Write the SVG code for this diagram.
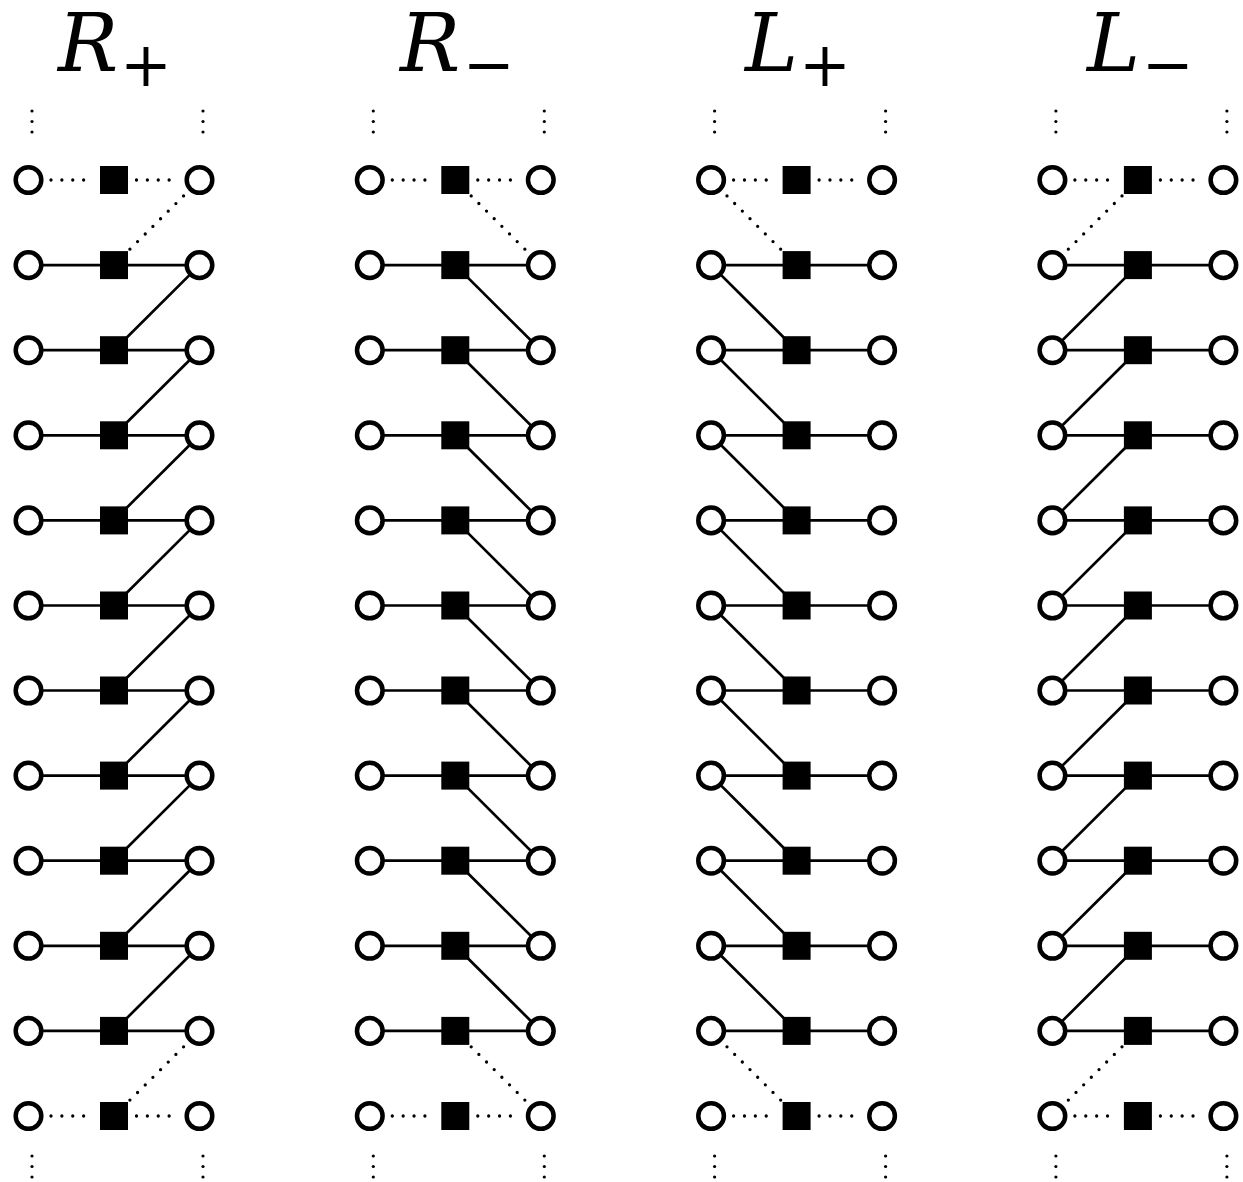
<svg xmlns="http://www.w3.org/2000/svg" width="1243" height="1182" viewBox="0 0 1243 1182">
<style>
.c{fill:#fff;stroke:#000;stroke-width:4.5}
.s{fill:#000}
.l{stroke:#000;stroke-width:2.7;fill:none}
.dh{stroke:#000;stroke-width:3.3;stroke-linecap:round;stroke-dasharray:0 10.875;fill:none}
.dd{stroke:#000;stroke-width:3.3;stroke-linecap:round;stroke-dasharray:0 10.8;fill:none}
.v{fill:#000}
.t{font-family:"DejaVu Serif",serif;font-style:italic;font-size:80px;fill:#000}
.sb{font-style:normal;font-size:62px}
</style>
<defs>
<g id="hz">
<line class="dh" x1="22.5" y1="180" x2="66" y2="180"/><line class="dh" x1="108" y1="180" x2="151.5" y2="180"/>
<line class="l" x1="0" y1="265.1" x2="171" y2="265.1"/>
<line class="l" x1="0" y1="350.2" x2="171" y2="350.2"/>
<line class="l" x1="0" y1="435.3" x2="171" y2="435.3"/>
<line class="l" x1="0" y1="520.4" x2="171" y2="520.4"/>
<line class="l" x1="0" y1="605.5" x2="171" y2="605.5"/>
<line class="l" x1="0" y1="690.5" x2="171" y2="690.5"/>
<line class="l" x1="0" y1="775.6" x2="171" y2="775.6"/>
<line class="l" x1="0" y1="860.7" x2="171" y2="860.7"/>
<line class="l" x1="0" y1="945.8" x2="171" y2="945.8"/>
<line class="l" x1="0" y1="1030.9" x2="171" y2="1030.9"/>
<line class="dh" x1="22.5" y1="1116" x2="66" y2="1116"/><line class="dh" x1="108" y1="1116" x2="151.5" y2="1116"/>
</g>
<g id="vd">
<circle class="v" cx="3.5" cy="111" r="1.6"/><circle class="v" cx="3.5" cy="121.5" r="1.6"/><circle class="v" cx="3.5" cy="132" r="1.6"/>
<circle class="v" cx="174.5" cy="111" r="1.6"/><circle class="v" cx="174.5" cy="121.5" r="1.6"/><circle class="v" cx="174.5" cy="132" r="1.6"/>
<circle class="v" cx="3.5" cy="1156" r="1.6"/><circle class="v" cx="3.5" cy="1166.5" r="1.6"/><circle class="v" cx="3.5" cy="1177" r="1.6"/>
<circle class="v" cx="174.5" cy="1156" r="1.6"/><circle class="v" cx="174.5" cy="1166.5" r="1.6"/><circle class="v" cx="174.5" cy="1177" r="1.6"/>
</g>
</defs>

<g id="titles">
<text class="t" x="58" y="71">R<tspan class="sb" x="120" y="86">+</tspan></text>
<text class="t" x="400" y="71">R<tspan class="sb" x="463" y="86">−</tspan></text>
<text class="t" x="745" y="71">L<tspan class="sb" x="799" y="86">+</tspan></text>
<text class="t" x="1087" y="71">L<tspan class="sb" x="1142" y="86">−</tspan></text>
</g>

<g id="vdots">
<use href="#vd" x="28.5"/><use href="#vd" x="369.8"/><use href="#vd" x="711.1"/><use href="#vd" x="1052.4"/>
</g>

<g id="connectors">
<g id="conn-rp" transform="translate(28.5,0)">
<use href="#hz"/>
<line class="dd" x1="101.4" y1="249.2" x2="155.1" y2="195.9"/>
<line class="l" x1="85.5" y1="350.2" x2="171" y2="265.1"/>
<line class="l" x1="85.5" y1="435.3" x2="171" y2="350.2"/>
<line class="l" x1="85.5" y1="520.4" x2="171" y2="435.3"/>
<line class="l" x1="85.5" y1="605.5" x2="171" y2="520.4"/>
<line class="l" x1="85.5" y1="690.5" x2="171" y2="605.5"/>
<line class="l" x1="85.5" y1="775.6" x2="171" y2="690.5"/>
<line class="l" x1="85.5" y1="860.7" x2="171" y2="775.6"/>
<line class="l" x1="85.5" y1="945.8" x2="171" y2="860.7"/>
<line class="l" x1="85.5" y1="1030.9" x2="171" y2="945.8"/>
<line class="dd" x1="101.4" y1="1100.1" x2="155.1" y2="1046.8"/>
</g>
<g id="conn-rm" transform="translate(369.8,0)">
<use href="#hz"/>
<line class="dd" x1="101.4" y1="195.9" x2="155.1" y2="249.2"/>
<line class="l" x1="85.5" y1="265.1" x2="171" y2="350.2"/>
<line class="l" x1="85.5" y1="350.2" x2="171" y2="435.3"/>
<line class="l" x1="85.5" y1="435.3" x2="171" y2="520.4"/>
<line class="l" x1="85.5" y1="520.4" x2="171" y2="605.5"/>
<line class="l" x1="85.5" y1="605.5" x2="171" y2="690.5"/>
<line class="l" x1="85.5" y1="690.5" x2="171" y2="775.6"/>
<line class="l" x1="85.5" y1="775.6" x2="171" y2="860.7"/>
<line class="l" x1="85.5" y1="860.7" x2="171" y2="945.8"/>
<line class="l" x1="85.5" y1="945.8" x2="171" y2="1030.9"/>
<line class="dd" x1="101.4" y1="1046.8" x2="155.1" y2="1100.1"/>
</g>
<g id="conn-lp" transform="translate(711.1,0)">
<use href="#hz"/>
<line class="dd" x1="15.9" y1="195.9" x2="69.6" y2="249.2"/>
<line class="l" x1="0" y1="265.1" x2="85.5" y2="350.2"/>
<line class="l" x1="0" y1="350.2" x2="85.5" y2="435.3"/>
<line class="l" x1="0" y1="435.3" x2="85.5" y2="520.4"/>
<line class="l" x1="0" y1="520.4" x2="85.5" y2="605.5"/>
<line class="l" x1="0" y1="605.5" x2="85.5" y2="690.5"/>
<line class="l" x1="0" y1="690.5" x2="85.5" y2="775.6"/>
<line class="l" x1="0" y1="775.6" x2="85.5" y2="860.7"/>
<line class="l" x1="0" y1="860.7" x2="85.5" y2="945.8"/>
<line class="l" x1="0" y1="945.8" x2="85.5" y2="1030.9"/>
<line class="dd" x1="15.9" y1="1046.8" x2="69.6" y2="1100.1"/>
</g>
<g id="conn-lm" transform="translate(1052.4,0)">
<use href="#hz"/>
<line class="dd" x1="69.6" y1="195.9" x2="15.9" y2="249.2"/>
<line class="l" x1="85.5" y1="265.1" x2="0" y2="350.2"/>
<line class="l" x1="85.5" y1="350.2" x2="0" y2="435.3"/>
<line class="l" x1="85.5" y1="435.3" x2="0" y2="520.4"/>
<line class="l" x1="85.5" y1="520.4" x2="0" y2="605.5"/>
<line class="l" x1="85.5" y1="605.5" x2="0" y2="690.5"/>
<line class="l" x1="85.5" y1="690.5" x2="0" y2="775.6"/>
<line class="l" x1="85.5" y1="775.6" x2="0" y2="860.7"/>
<line class="l" x1="85.5" y1="860.7" x2="0" y2="945.8"/>
<line class="l" x1="85.5" y1="945.8" x2="0" y2="1030.9"/>
<line class="dd" x1="69.6" y1="1046.8" x2="15.9" y2="1100.1"/>
</g>
</g>

<g id="nodes-rp" transform="translate(28.5,0)">
<g id="rp-l1"><circle class="c" cx="0" cy="180" r="12.8"/></g><g id="rp-s1"><rect class="s" x="71.5" y="166" width="28" height="28"/></g><g id="rp-r1"><circle class="c" cx="171" cy="180" r="12.8"/></g>
<g id="rp-l2"><circle class="c" cx="0" cy="265.1" r="12.8"/></g><g id="rp-s2"><rect class="s" x="71.5" y="251.1" width="28" height="28"/></g><g id="rp-r2"><circle class="c" cx="171" cy="265.1" r="12.8"/></g>
<g id="rp-l3"><circle class="c" cx="0" cy="350.2" r="12.8"/></g><g id="rp-s3"><rect class="s" x="71.5" y="336.2" width="28" height="28"/></g><g id="rp-r3"><circle class="c" cx="171" cy="350.2" r="12.8"/></g>
<g id="rp-l4"><circle class="c" cx="0" cy="435.3" r="12.8"/></g><g id="rp-s4"><rect class="s" x="71.5" y="421.3" width="28" height="28"/></g><g id="rp-r4"><circle class="c" cx="171" cy="435.3" r="12.8"/></g>
<g id="rp-l5"><circle class="c" cx="0" cy="520.4" r="12.8"/></g><g id="rp-s5"><rect class="s" x="71.5" y="506.4" width="28" height="28"/></g><g id="rp-r5"><circle class="c" cx="171" cy="520.4" r="12.8"/></g>
<g id="rp-l6"><circle class="c" cx="0" cy="605.5" r="12.8"/></g><g id="rp-s6"><rect class="s" x="71.5" y="591.5" width="28" height="28"/></g><g id="rp-r6"><circle class="c" cx="171" cy="605.5" r="12.8"/></g>
<g id="rp-l7"><circle class="c" cx="0" cy="690.5" r="12.8"/></g><g id="rp-s7"><rect class="s" x="71.5" y="676.5" width="28" height="28"/></g><g id="rp-r7"><circle class="c" cx="171" cy="690.5" r="12.8"/></g>
<g id="rp-l8"><circle class="c" cx="0" cy="775.6" r="12.8"/></g><g id="rp-s8"><rect class="s" x="71.5" y="761.6" width="28" height="28"/></g><g id="rp-r8"><circle class="c" cx="171" cy="775.6" r="12.8"/></g>
<g id="rp-l9"><circle class="c" cx="0" cy="860.7" r="12.8"/></g><g id="rp-s9"><rect class="s" x="71.5" y="846.7" width="28" height="28"/></g><g id="rp-r9"><circle class="c" cx="171" cy="860.7" r="12.8"/></g>
<g id="rp-l10"><circle class="c" cx="0" cy="945.8" r="12.8"/></g><g id="rp-s10"><rect class="s" x="71.5" y="931.8" width="28" height="28"/></g><g id="rp-r10"><circle class="c" cx="171" cy="945.8" r="12.8"/></g>
<g id="rp-l11"><circle class="c" cx="0" cy="1030.9" r="12.8"/></g><g id="rp-s11"><rect class="s" x="71.5" y="1016.9" width="28" height="28"/></g><g id="rp-r11"><circle class="c" cx="171" cy="1030.9" r="12.8"/></g>
<g id="rp-l12"><circle class="c" cx="0" cy="1116" r="12.8"/></g><g id="rp-s12"><rect class="s" x="71.5" y="1102" width="28" height="28"/></g><g id="rp-r12"><circle class="c" cx="171" cy="1116" r="12.8"/></g>
</g>

<g id="nodes-rm" transform="translate(369.8,0)">
<g id="rm-l1"><circle class="c" cx="0" cy="180" r="12.8"/></g><g id="rm-s1"><rect class="s" x="71.5" y="166" width="28" height="28"/></g><g id="rm-r1"><circle class="c" cx="171" cy="180" r="12.8"/></g>
<g id="rm-l2"><circle class="c" cx="0" cy="265.1" r="12.8"/></g><g id="rm-s2"><rect class="s" x="71.5" y="251.1" width="28" height="28"/></g><g id="rm-r2"><circle class="c" cx="171" cy="265.1" r="12.8"/></g>
<g id="rm-l3"><circle class="c" cx="0" cy="350.2" r="12.8"/></g><g id="rm-s3"><rect class="s" x="71.5" y="336.2" width="28" height="28"/></g><g id="rm-r3"><circle class="c" cx="171" cy="350.2" r="12.8"/></g>
<g id="rm-l4"><circle class="c" cx="0" cy="435.3" r="12.8"/></g><g id="rm-s4"><rect class="s" x="71.5" y="421.3" width="28" height="28"/></g><g id="rm-r4"><circle class="c" cx="171" cy="435.3" r="12.8"/></g>
<g id="rm-l5"><circle class="c" cx="0" cy="520.4" r="12.8"/></g><g id="rm-s5"><rect class="s" x="71.5" y="506.4" width="28" height="28"/></g><g id="rm-r5"><circle class="c" cx="171" cy="520.4" r="12.8"/></g>
<g id="rm-l6"><circle class="c" cx="0" cy="605.5" r="12.8"/></g><g id="rm-s6"><rect class="s" x="71.5" y="591.5" width="28" height="28"/></g><g id="rm-r6"><circle class="c" cx="171" cy="605.5" r="12.8"/></g>
<g id="rm-l7"><circle class="c" cx="0" cy="690.5" r="12.8"/></g><g id="rm-s7"><rect class="s" x="71.5" y="676.5" width="28" height="28"/></g><g id="rm-r7"><circle class="c" cx="171" cy="690.5" r="12.8"/></g>
<g id="rm-l8"><circle class="c" cx="0" cy="775.6" r="12.8"/></g><g id="rm-s8"><rect class="s" x="71.5" y="761.6" width="28" height="28"/></g><g id="rm-r8"><circle class="c" cx="171" cy="775.6" r="12.8"/></g>
<g id="rm-l9"><circle class="c" cx="0" cy="860.7" r="12.8"/></g><g id="rm-s9"><rect class="s" x="71.5" y="846.7" width="28" height="28"/></g><g id="rm-r9"><circle class="c" cx="171" cy="860.7" r="12.8"/></g>
<g id="rm-l10"><circle class="c" cx="0" cy="945.8" r="12.8"/></g><g id="rm-s10"><rect class="s" x="71.5" y="931.8" width="28" height="28"/></g><g id="rm-r10"><circle class="c" cx="171" cy="945.8" r="12.8"/></g>
<g id="rm-l11"><circle class="c" cx="0" cy="1030.9" r="12.8"/></g><g id="rm-s11"><rect class="s" x="71.5" y="1016.9" width="28" height="28"/></g><g id="rm-r11"><circle class="c" cx="171" cy="1030.9" r="12.8"/></g>
<g id="rm-l12"><circle class="c" cx="0" cy="1116" r="12.8"/></g><g id="rm-s12"><rect class="s" x="71.5" y="1102" width="28" height="28"/></g><g id="rm-r12"><circle class="c" cx="171" cy="1116" r="12.8"/></g>
</g>

<g id="nodes-lp" transform="translate(711.1,0)">
<g id="lp-l1"><circle class="c" cx="0" cy="180" r="12.8"/></g><g id="lp-s1"><rect class="s" x="71.5" y="166" width="28" height="28"/></g><g id="lp-r1"><circle class="c" cx="171" cy="180" r="12.8"/></g>
<g id="lp-l2"><circle class="c" cx="0" cy="265.1" r="12.8"/></g><g id="lp-s2"><rect class="s" x="71.5" y="251.1" width="28" height="28"/></g><g id="lp-r2"><circle class="c" cx="171" cy="265.1" r="12.8"/></g>
<g id="lp-l3"><circle class="c" cx="0" cy="350.2" r="12.8"/></g><g id="lp-s3"><rect class="s" x="71.5" y="336.2" width="28" height="28"/></g><g id="lp-r3"><circle class="c" cx="171" cy="350.2" r="12.8"/></g>
<g id="lp-l4"><circle class="c" cx="0" cy="435.3" r="12.8"/></g><g id="lp-s4"><rect class="s" x="71.5" y="421.3" width="28" height="28"/></g><g id="lp-r4"><circle class="c" cx="171" cy="435.3" r="12.8"/></g>
<g id="lp-l5"><circle class="c" cx="0" cy="520.4" r="12.8"/></g><g id="lp-s5"><rect class="s" x="71.5" y="506.4" width="28" height="28"/></g><g id="lp-r5"><circle class="c" cx="171" cy="520.4" r="12.8"/></g>
<g id="lp-l6"><circle class="c" cx="0" cy="605.5" r="12.8"/></g><g id="lp-s6"><rect class="s" x="71.5" y="591.5" width="28" height="28"/></g><g id="lp-r6"><circle class="c" cx="171" cy="605.5" r="12.8"/></g>
<g id="lp-l7"><circle class="c" cx="0" cy="690.5" r="12.8"/></g><g id="lp-s7"><rect class="s" x="71.5" y="676.5" width="28" height="28"/></g><g id="lp-r7"><circle class="c" cx="171" cy="690.5" r="12.8"/></g>
<g id="lp-l8"><circle class="c" cx="0" cy="775.6" r="12.8"/></g><g id="lp-s8"><rect class="s" x="71.5" y="761.6" width="28" height="28"/></g><g id="lp-r8"><circle class="c" cx="171" cy="775.6" r="12.8"/></g>
<g id="lp-l9"><circle class="c" cx="0" cy="860.7" r="12.8"/></g><g id="lp-s9"><rect class="s" x="71.5" y="846.7" width="28" height="28"/></g><g id="lp-r9"><circle class="c" cx="171" cy="860.7" r="12.8"/></g>
<g id="lp-l10"><circle class="c" cx="0" cy="945.8" r="12.8"/></g><g id="lp-s10"><rect class="s" x="71.5" y="931.8" width="28" height="28"/></g><g id="lp-r10"><circle class="c" cx="171" cy="945.8" r="12.8"/></g>
<g id="lp-l11"><circle class="c" cx="0" cy="1030.9" r="12.8"/></g><g id="lp-s11"><rect class="s" x="71.5" y="1016.9" width="28" height="28"/></g><g id="lp-r11"><circle class="c" cx="171" cy="1030.9" r="12.8"/></g>
<g id="lp-l12"><circle class="c" cx="0" cy="1116" r="12.8"/></g><g id="lp-s12"><rect class="s" x="71.5" y="1102" width="28" height="28"/></g><g id="lp-r12"><circle class="c" cx="171" cy="1116" r="12.8"/></g>
</g>

<g id="nodes-lm" transform="translate(1052.4,0)">
<g id="lm-l1"><circle class="c" cx="0" cy="180" r="12.8"/></g><g id="lm-s1"><rect class="s" x="71.5" y="166" width="28" height="28"/></g><g id="lm-r1"><circle class="c" cx="171" cy="180" r="12.8"/></g>
<g id="lm-l2"><circle class="c" cx="0" cy="265.1" r="12.8"/></g><g id="lm-s2"><rect class="s" x="71.5" y="251.1" width="28" height="28"/></g><g id="lm-r2"><circle class="c" cx="171" cy="265.1" r="12.8"/></g>
<g id="lm-l3"><circle class="c" cx="0" cy="350.2" r="12.8"/></g><g id="lm-s3"><rect class="s" x="71.5" y="336.2" width="28" height="28"/></g><g id="lm-r3"><circle class="c" cx="171" cy="350.2" r="12.8"/></g>
<g id="lm-l4"><circle class="c" cx="0" cy="435.3" r="12.8"/></g><g id="lm-s4"><rect class="s" x="71.5" y="421.3" width="28" height="28"/></g><g id="lm-r4"><circle class="c" cx="171" cy="435.3" r="12.8"/></g>
<g id="lm-l5"><circle class="c" cx="0" cy="520.4" r="12.8"/></g><g id="lm-s5"><rect class="s" x="71.5" y="506.4" width="28" height="28"/></g><g id="lm-r5"><circle class="c" cx="171" cy="520.4" r="12.8"/></g>
<g id="lm-l6"><circle class="c" cx="0" cy="605.5" r="12.8"/></g><g id="lm-s6"><rect class="s" x="71.5" y="591.5" width="28" height="28"/></g><g id="lm-r6"><circle class="c" cx="171" cy="605.5" r="12.8"/></g>
<g id="lm-l7"><circle class="c" cx="0" cy="690.5" r="12.8"/></g><g id="lm-s7"><rect class="s" x="71.5" y="676.5" width="28" height="28"/></g><g id="lm-r7"><circle class="c" cx="171" cy="690.5" r="12.8"/></g>
<g id="lm-l8"><circle class="c" cx="0" cy="775.6" r="12.8"/></g><g id="lm-s8"><rect class="s" x="71.5" y="761.6" width="28" height="28"/></g><g id="lm-r8"><circle class="c" cx="171" cy="775.6" r="12.8"/></g>
<g id="lm-l9"><circle class="c" cx="0" cy="860.7" r="12.8"/></g><g id="lm-s9"><rect class="s" x="71.5" y="846.7" width="28" height="28"/></g><g id="lm-r9"><circle class="c" cx="171" cy="860.7" r="12.8"/></g>
<g id="lm-l10"><circle class="c" cx="0" cy="945.8" r="12.8"/></g><g id="lm-s10"><rect class="s" x="71.5" y="931.8" width="28" height="28"/></g><g id="lm-r10"><circle class="c" cx="171" cy="945.8" r="12.8"/></g>
<g id="lm-l11"><circle class="c" cx="0" cy="1030.9" r="12.8"/></g><g id="lm-s11"><rect class="s" x="71.5" y="1016.9" width="28" height="28"/></g><g id="lm-r11"><circle class="c" cx="171" cy="1030.9" r="12.8"/></g>
<g id="lm-l12"><circle class="c" cx="0" cy="1116" r="12.8"/></g><g id="lm-s12"><rect class="s" x="71.5" y="1102" width="28" height="28"/></g><g id="lm-r12"><circle class="c" cx="171" cy="1116" r="12.8"/></g>
</g>
</svg>
